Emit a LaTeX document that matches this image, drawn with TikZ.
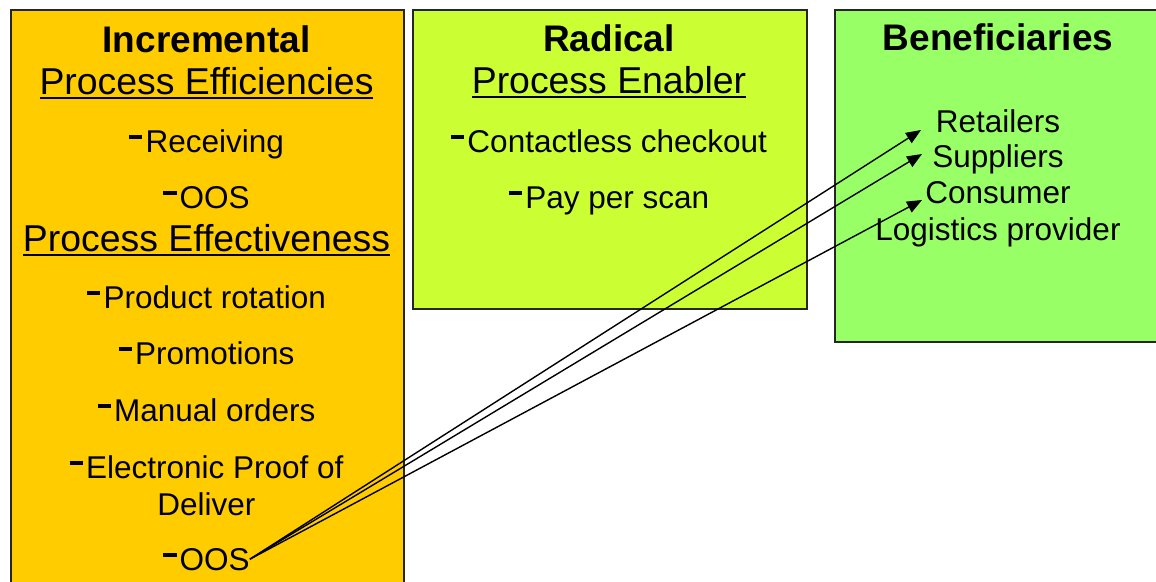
\documentclass[tikz,border=0pt]{standalone}
\usepackage{fontspec}
\setmainfont{Liberation Sans}
\usepackage{tikz}
\usetikzlibrary{arrows.meta}
\definecolor{incr}{RGB}{255,204,0}
\definecolor{radic}{RGB}{204,255,51}
\definecolor{benef}{RGB}{153,255,102}
\newcommand\dashmark{\rule[0.41em]{0.42em}{0.13em}\hspace{0.1em}}
\newcommand\ulhead[1]{\setbox0\hbox{#1}\rlap{\rule[-5pt]{\wd0}{2.5pt}}\box0}
\tikzset{
  panel/.style={draw=black!85,line width=1.6pt,inner sep=0pt,anchor=north west},
  title/.style={anchor=base,inner sep=0pt,font=\fontsize{37}{44}\selectfont\bfseries},
  head/.style={anchor=base,inner sep=0pt,font=\fontsize{37.4}{44}\selectfont},
  entry/.style={anchor=base,inner sep=0pt,font=\fontsize{31.5}{37}\selectfont},
  link/.style={-{Triangle[length=15pt,width=12pt]},line width=1.4pt},
}
\begin{document}
\begin{tikzpicture}[x=1pt,y=-1pt]
\useasboundingbox (0,0) rectangle (1156,581);
% panels
\node[panel,fill=incr,minimum width=393pt,minimum height=600pt] (incbox) at (10,9) {};
\node[panel,fill=radic,minimum width=394pt,minimum height=299pt] (radbox) at (412,9) {};
\node[panel,fill=benef,minimum width=330pt,minimum height=332pt] (benbox) at (834,9) {};
% incremental
\node[title] (inc) at (206.5,52) {Incremental};
\node[head] (peff) at (206.5,94) {\ulhead{Process Efficiencies}};
\node[entry] (recv) at (206.5,152) {\dashmark Receiving};
\node[entry] (oosA) at (206.5,208) {\dashmark OOS};
\node[head] (pfct) at (206.5,251) {\ulhead{Process Effectiveness}};
\node[entry] (rot) at (206.5,308) {\dashmark Product rotation};
\node[entry] (promo) at (206.5,364) {\dashmark Promotions};
\node[entry] (manual) at (206.5,421) {\dashmark Manual orders};
\node[entry] (epod) at (206.5,478) {\dashmark Electronic Proof of};
\node[entry] (deliv) at (206.5,515) {Deliver};
\node[entry] (oosB) at (206.5,570) {\dashmark OOS};
% radical
\node[title] (rad) at (609,51) {Radical};
\node[head] (pen) at (609,93) {\ulhead{Process Enabler}};
\node[entry] (cless) at (609,152) {\dashmark Contactless checkout};
\node[entry] (pps) at (609,208) {\dashmark Pay per scan};
% beneficiaries
\node[title] (ben) at (998,50) {Beneficiaries};
\node[entry] (ret) at (998,132) {Retailers};
\node[entry] (sup) at (998,167) {Suppliers};
\node[entry] (con) at (998,203) {Consumer};
\node[entry] (log) at (998,240) {Logistics provider};
\coordinate (tRet) at (921,130);
\coordinate (tSup) at (922,154);
\coordinate (tCon) at (922,200);
\draw[link] (oosB.east) -- (tRet);
\draw[link] (oosB.east) -- (tSup);
\draw[link] (oosB.east) -- (tCon);
\end{tikzpicture}
\end{document}
